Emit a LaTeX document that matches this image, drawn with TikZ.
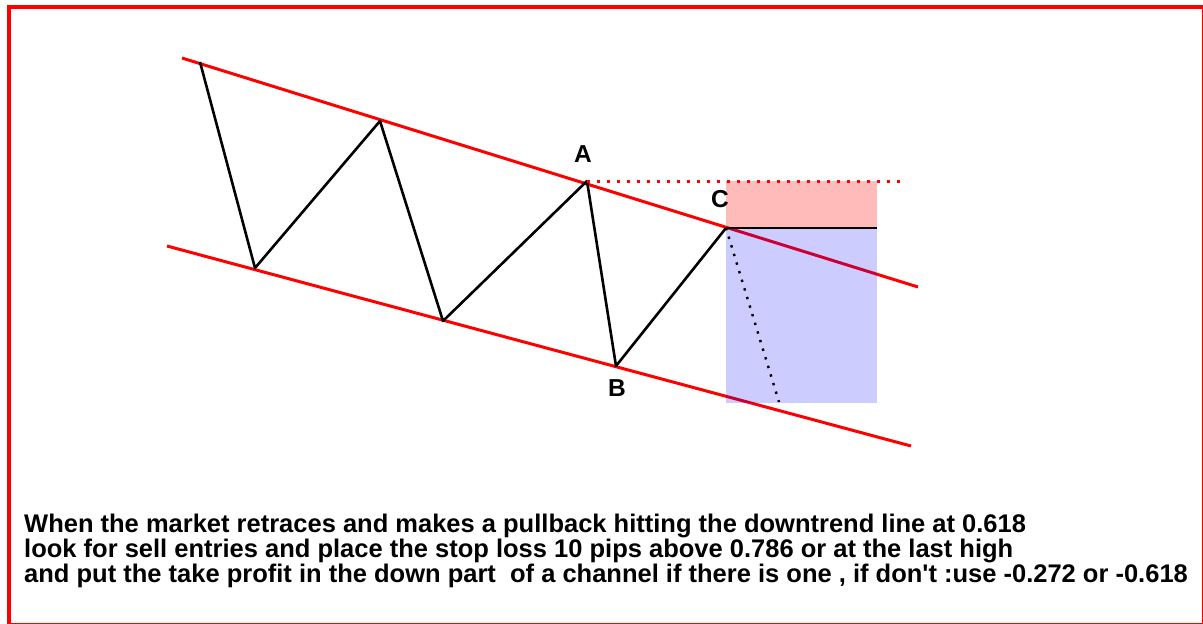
\documentclass[tikz,border=0pt]{standalone}
\usepackage{fontspec}
\setmainfont{Liberation Sans}
\usetikzlibrary{positioning}

\begin{document}
\begin{tikzpicture}[x=1pt, y=-1pt, font=\bfseries,
  frame/.style={draw=red, line width=4pt},
  channel/.style={draw=red, line width=3pt},
  swing/.style={draw=black, line width=2.6pt, line join=round},
  highline/.style={draw=red, line width=3pt, dash pattern=on 3pt off 7pt},
  stopzone/.style={fill=red, fill opacity=0.27},
  profitzone/.style={fill=blue, fill opacity=0.2},
  entryline/.style={draw=black, line width=1.2pt},
  target/.style={draw=black, line width=2.4pt, dash pattern=on 2.4pt off 6.6pt},
  ptlabel/.style={font=\fontsize{24.5}{24.5}\selectfont\bfseries, inner sep=0pt},
  note/.style={anchor=north west, align=left, inner sep=0pt,
    font=\fontsize{25.5}{21.7}\selectfont\bfseries},
]
\useasboundingbox (0,0) rectangle (1203,624);
\draw[frame] (9,7) rectangle (1204,625);

% ---------------------------------------------------------------- channel
\coordinate (upL) at (182,58);
\coordinate (upR) at (918,287);
\coordinate (loL) at (167,246);
\coordinate (loR) at (911,446);
\draw[channel] (upL) -- (upR);
\draw[channel] (loL) -- (loR);

% ---------------------------------------------------------------- price swings
\coordinate (s0) at (200,62);
\coordinate (s1) at (255,268);
\coordinate (s2) at (380,121);
\coordinate (s3) at (443,321);
\coordinate (A) at (587,181);
\coordinate (B) at (616,366);
\coordinate (C) at (726,228);
\draw[swing] (s0) -- (s1) -- (s2) -- (s3) -- (A) -- (B) -- (C);

% ---------------------------------------------------------------- trade zones
\coordinate (highR) at (900,181);
\coordinate (entryR) at (877,228);
\coordinate (tpBR) at (877,403);
\coordinate (tpEnd) at (779,402);
\fill[stopzone] (C |- A) rectangle (entryR);
\fill[profitzone] (C) rectangle (tpBR);
\draw[highline] (A) -- (highR);
\draw[entryline] (C) -- (entryR);
\draw[target] (C) -- (tpEnd);

\node[ptlabel] (labA) at (583,154) {A};
\node[ptlabel] (labB) at (617,388) {B};
\node[ptlabel] (labC) at (720,199) {C};

% ---------------------------------------------------------------- note
\node[note] (rule) at (24,514) {When the market retraces and makes a pullback hitting the downtrend line at 0.618\\
look for sell entries and place the stop loss 10 pips above 0.786 or at the last high\\
and put the take profit in the down part\ \ of a channel if there is one , if don\textquotesingle t :use -0.272 or -0.618};
\end{tikzpicture}
\end{document}
